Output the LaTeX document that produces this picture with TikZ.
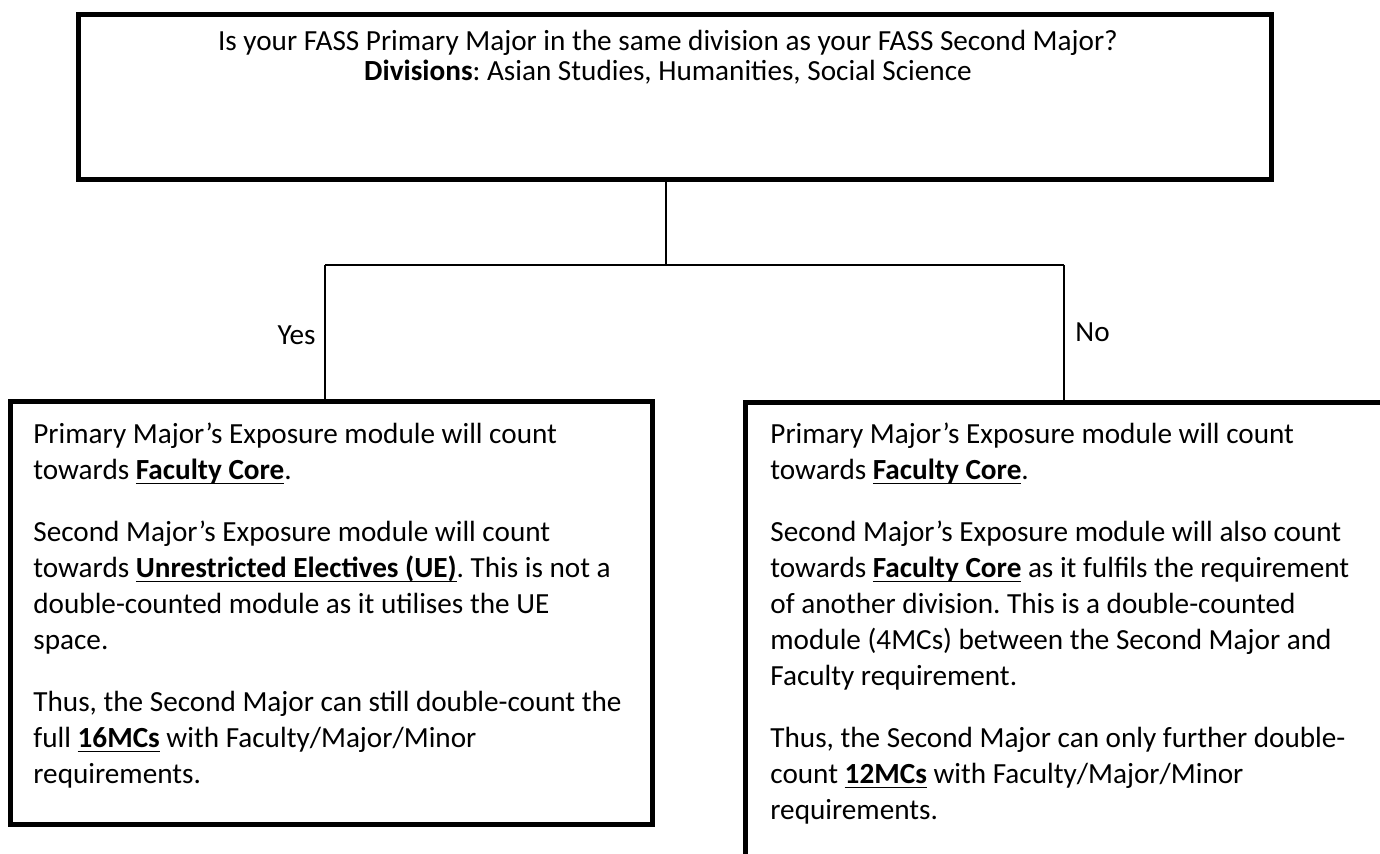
\documentclass[tikz,border=0pt]{standalone}
\usepackage{fontspec}
\setmainfont{Carlito}
\frenchspacing
\newsavebox{\ulbox}
\newcommand{\ulbf}[1]{\sbox{\ulbox}{\textbf{#1}}\rlap{\rule[-2.2pt]{\wd\ulbox}{0.9pt}}\usebox{\ulbox}}
\usepackage{tikz}
\usetikzlibrary{positioning}

\begin{document}
\begin{tikzpicture}
		[x=0.5pt,y=-0.5pt,
		box/.style={draw,line width=2.5pt,inner sep=0pt},
		link/.style={line width=1.3pt},
		txt/.style={inner sep=0pt,align=left,font=\fontsize{14.6}{18}\selectfont},
		answer/.style={inner sep=0pt,font=\fontsize{14.6}{18}\selectfont}]
		\clip (0,0) rectangle (1380,854);
		\node[box,minimum width=596.25pt,minimum height=82.5pt] (q) at (674.75,97.5) {};
		\node[box,minimum width=321.25pt,minimum height=211pt] (yesbox) at (331.25,613) {};
		\node[box,minimum width=377.25pt,minimum height=298.5pt] (nobox) at (1122.75,701.5) {};
		\coordinate (hub) at (666,265);
		\coordinate (yesend) at (325,265);
		\coordinate (noend) at (1064,265);
		\draw[link] (q.south -| hub) -- (hub);
		\draw[link] (yesend) -- (noend);
		\draw[link] (yesend) -- (yesend |- yesbox.north);
		\draw[link] (noend) -- (noend |- nobox.north);
		\node[answer,anchor=base east] (yes) at (316,345) {Yes};
		\node[answer,anchor=base west] (no) at (1075,342) {No};
		\node[txt,align=center,font=\fontsize{14.6}{15}\selectfont,anchor=north] (qtext) at (668,30)
		{Is your FASS Primary Major in the same division as your FASS Second Major?\\
		\textbf{Divisions}: Asian Studies, Humanities, Social Science};
		\node[txt,anchor=north west] (yestext) at (33,423)
		{Primary Major’s Exposure module will count\\
		towards \ulbf{Faculty Core}.\\[13pt]
		Second Major’s Exposure module will count\\
		towards \ulbf{Unrestricted Electives (UE)}. This is not a\\
		double-counted module as it utilises the UE\\
		space.\\[13pt]
		Thus, the Second Major can still double-count the\\
		full \ulbf{16MCs} with Faculty/Major/Minor\\
		requirements.};
		\node[txt,anchor=north west] (notext) at (770,423)
		{Primary Major’s Exposure module will count\\
		towards \ulbf{Faculty Core}.\\[13pt]
		Second Major’s Exposure module will also count\\
		towards \ulbf{Faculty Core} as it fulfils the requirement\\
		of another division. This is a double-counted\\
		module (4MCs) between the Second Major and\\
		Faculty requirement.\\[13pt]
		Thus, the Second Major can only further double-\\
		count \ulbf{12MCs} with Faculty/Major/Minor\\
		requirements.};
\end{tikzpicture}
\end{document}
